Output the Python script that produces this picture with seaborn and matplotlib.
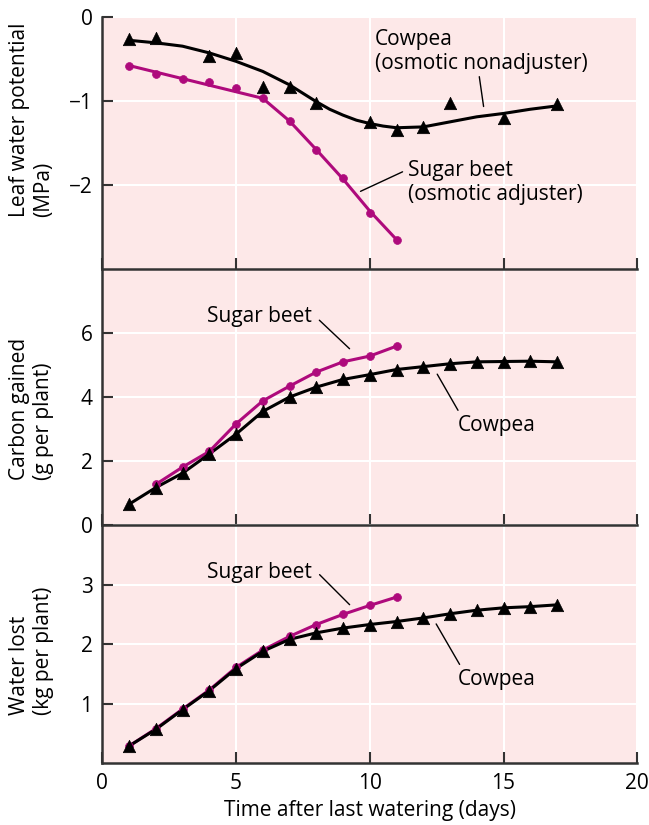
import numpy as np
import pandas as pd
import matplotlib.pyplot as plt
import seaborn as sns

# values
days_cp = list(range(1, 18))
days_sb = list(range(1, 12))

# leaf water potential (MPa)
lwp_cp_days = [1, 2, 4, 5, 6, 7, 8, 10, 11, 12, 13, 15, 17]
lwp_cp = [-0.27, -0.25, -0.47, -0.43, -0.84, -0.84, -1.02, -1.25, -1.35, -1.31, -1.03, -1.20, -1.04]
# smooth fitted curve, read at these days
lwp_cp_fit_days = [1, 2, 3, 4, 5, 5.5, 6, 6.5, 7, 7.5, 8, 8.5, 9, 9.5, 10, 10.5, 11,
                   12, 13, 14, 15, 16, 17]
lwp_cp_fit = [-0.28, -0.31, -0.35, -0.43, -0.53, -0.59, -0.65, -0.73, -0.81, -0.91,
              -1.01, -1.10, -1.17, -1.23, -1.27, -1.30, -1.32, -1.31, -1.25, -1.19,
              -1.15, -1.10, -1.06]
lwp_sb = [-0.58, -0.68, -0.74, -0.77, -0.85, -0.97, -1.24, -1.58, -1.92, -2.33, -2.65]
lwp_sb_fit_days = [1, 6, 7, 8, 9, 10, 11]
lwp_sb_fit = [-0.58, -0.97, -1.24, -1.58, -1.93, -2.31, -2.65]

# carbon gained (g per plant)
carb_cp = [0.65, 1.17, 1.62, 2.22, 2.84, 3.55, 4.00, 4.31, 4.55, 4.70, 4.86, 4.95,
           5.04, 5.10, 5.11, 5.12, 5.10]
carb_sb_days = list(range(2, 12))
carb_sb = [1.27, 1.81, 2.30, 3.16, 3.88, 4.34, 4.78, 5.10, 5.28, 5.59]

# water lost (kg per plant)
water_cp = [0.29, 0.57, 0.90, 1.22, 1.59, 1.88, 2.08, 2.19, 2.27, 2.33, 2.38, 2.44,
            2.51, 2.57, 2.61, 2.63, 2.66]
water_sb = [0.29, 0.58, 0.91, 1.23, 1.61, 1.90, 2.13, 2.33, 2.50, 2.65, 2.79]

magenta = '#AE0A7C'
spine_col = '#333333'
fs = 15

sns.set_style('darkgrid', {'axes.facecolor': '#FDE8E8', 'grid.color': 'white'})
plt.rcParams['font.family'] = ['Open Sans', 'DejaVu Sans']
plt.rcParams['font.size'] = fs
plt.rcParams['text.color'] = 'black'

fig = plt.figure(figsize=(6.49, 8.25), dpi=100)
fig.patch.set_facecolor('white')

# add from the bottom up so each bottom spine sits on top of the panel below it
left, width = 0.1576, 0.8243
ax3 = fig.add_axes([left, 0.0748, width, 0.2888])
ax2 = fig.add_axes([left, 0.3636, width, 0.3103])
ax1 = fig.add_axes([left, 0.6739, width, 0.3058])

for ax in (ax1, ax2, ax3):
    ax.set_xlim(0, 20)
    ax.set_xticks([0, 5, 10, 15, 20])
    ax.grid(True, color='white', lw=1.5)
    ax.set_axisbelow(True)
    for s in ('top', 'right'):
        ax.spines[s].set_visible(False)
    for s in ('left', 'bottom'):
        ax.spines[s].set_visible(True)
        ax.spines[s].set_color(spine_col)
        ax.spines[s].set_linewidth(1.8)
    ax.tick_params(bottom=True, left=True, direction='in', length=8, width=1.5,
                   color=spine_col, labelsize=fs, labelcolor='black', pad=7)
    ax.set_xlabel('')
    ax.set_ylabel('')

ax1.tick_params(axis='x', labelbottom=False)
ax2.tick_params(axis='x', labelbottom=False)

lw = 2.2
tri = dict(marker='^', s=80, color='black', edgecolor='black', linewidth=0.5, legend=False, zorder=4)
dot = dict(marker='o', s=32, color=magenta, edgecolor=magenta, linewidth=0.5, legend=False, zorder=3)
lead = dict(arrowstyle='-', lw=1, color='black')

# panel 1: leaf water potential
sns.lineplot(x=lwp_sb_fit_days, y=lwp_sb_fit, ax=ax1, color=magenta, lw=lw, zorder=2)
sns.scatterplot(x=days_sb, y=lwp_sb, ax=ax1, **dot)
sns.lineplot(x=lwp_cp_fit_days, y=lwp_cp_fit, ax=ax1, color='black', lw=lw, zorder=2)
sns.scatterplot(x=lwp_cp_days, y=lwp_cp, ax=ax1, **tri)
ax1.set_ylim(-3, 0)
ax1.set_yticks([0, -1, -2])

ax1.text(10.19, -0.41, 'Cowpea\n(osmotic nonadjuster)', ha='left', va='center',
         multialignment='left', fontsize=fs)
ax1.annotate('', xy=(14.27, -1.10), xytext=(14.08, -0.68), arrowprops=lead)
ax1.text(11.43, -1.97, 'Sugar beet\n(osmotic adjuster)', ha='left', va='center',
         multialignment='left', fontsize=fs)
ax1.annotate('', xy=(9.56, -2.09), xytext=(11.32, -1.83), arrowprops=lead)

# panel 2: carbon gained
sns.lineplot(x=carb_sb_days, y=carb_sb, ax=ax2, color=magenta, lw=lw, zorder=2)
sns.scatterplot(x=carb_sb_days, y=carb_sb, ax=ax2, **dot)
sns.lineplot(x=days_cp, y=carb_cp, ax=ax2, color='black', lw=lw, zorder=2)
sns.scatterplot(x=days_cp, y=carb_cp, ax=ax2, **tri)
ax2.set_ylim(0, 8)
ax2.set_yticks([0, 2, 4, 6])

ax2.text(3.91, 6.53, 'Sugar beet', ha='left', va='center', fontsize=fs)
ax2.annotate('', xy=(9.32, 5.45), xytext=(8.04, 6.46), arrowprops=lead)
ax2.text(13.3, 3.12, 'Cowpea', ha='left', va='center', fontsize=fs)
ax2.annotate('', xy=(13.35, 3.51), xytext=(12.47, 4.79), arrowprops=lead)

# panel 3: water lost
sns.lineplot(x=days_sb, y=water_sb, ax=ax3, color=magenta, lw=lw, zorder=2)
sns.scatterplot(x=days_sb, y=water_sb, ax=ax3, **dot)
sns.lineplot(x=days_cp, y=water_cp, ax=ax3, color='black', lw=lw, zorder=2)
sns.scatterplot(x=days_cp, y=water_cp, ax=ax3, **tri)
ax3.set_ylim(0, 4)
ax3.set_yticks([1, 2, 3])

ax3.text(3.91, 3.20, 'Sugar beet', ha='left', va='center', fontsize=fs)
ax3.annotate('', xy=(9.32, 2.63), xytext=(8.05, 3.20), arrowprops=lead)
ax3.text(13.3, 1.40, 'Cowpea', ha='left', va='center', fontsize=fs)
ax3.annotate('', xy=(13.41, 1.62), xytext=(12.43, 2.38), arrowprops=lead)

# axis labels
fig.text(0.049, 0.737, 'Leaf water potential\n(MPa)', rotation=90, ha='center',
         va='bottom', multialignment='left', fontsize=fs)
fig.text(0.049, 0.418, 'Carbon gained\n(g per plant)', rotation=90, ha='center',
         va='bottom', multialignment='left', fontsize=fs)
fig.text(0.049, 0.1333, 'Water lost\n(kg per plant)', rotation=90, ha='center',
         va='bottom', multialignment='left', fontsize=fs)
fig.text(0.57, 0.018, 'Time after last watering (days)', ha='center', va='center',
         fontsize=fs)

plt.savefig('out.png', dpi=100)
